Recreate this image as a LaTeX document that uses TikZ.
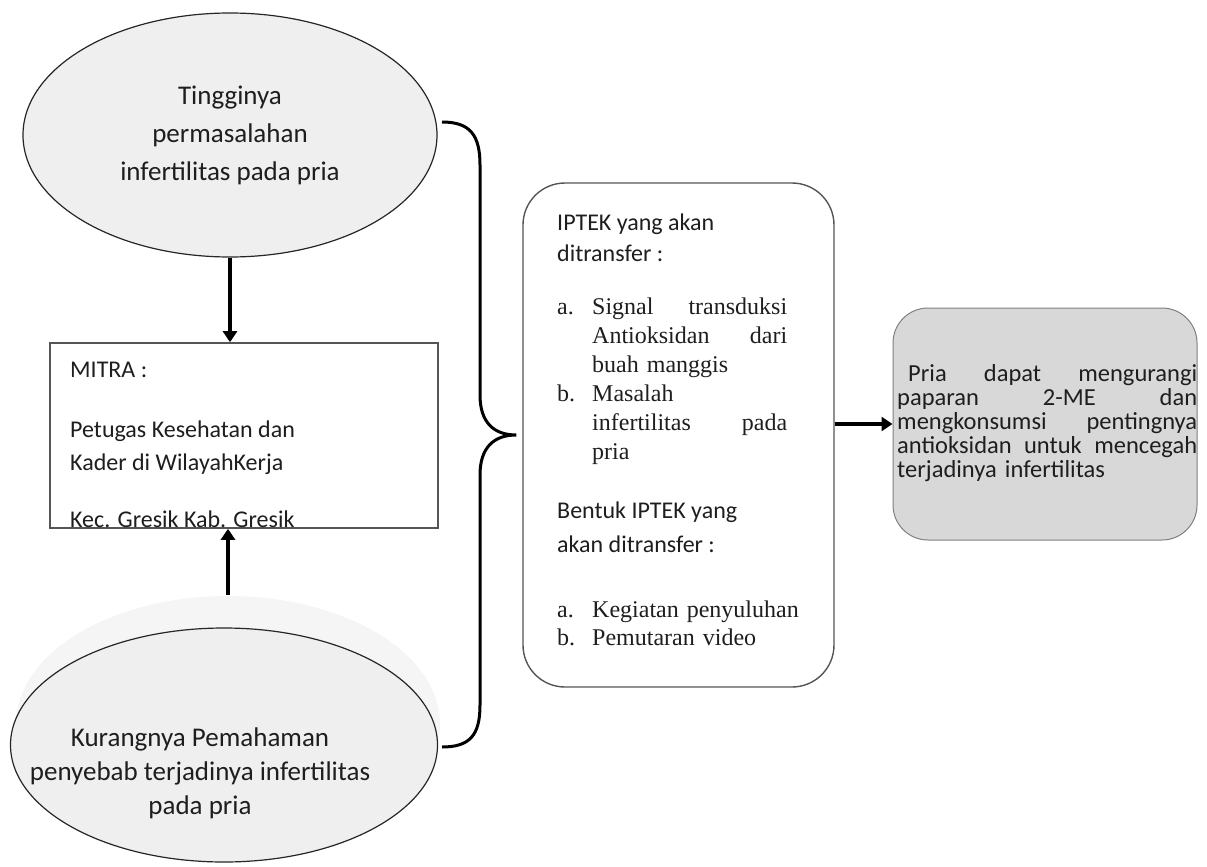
\documentclass[tikz,border=0pt]{standalone}
\usepackage{fontspec}
\setmainfont{Carlito}
\newfontfamily\timesfont{Liberation Serif}
\usetikzlibrary{shapes.geometric,arrows.meta,positioning}
\setlength{\parindent}{0pt}

\definecolor{bubblegray}{HTML}{EFEFEF}
\definecolor{shadegray}{HTML}{F5F5F5}
\definecolor{resultgray}{HTML}{D8D8D8}
\definecolor{edgegray}{HTML}{555555}
\definecolor{inkgray}{HTML}{1E1E1E}

\tikzset{
  bubble/.style={ellipse, draw=black!85, line width=1.2pt, fill=bubblegray, inner sep=0pt},
  boxtxt/.style={inner sep=0pt, anchor=north west, align=left, text=inkgray},
  listtxt/.style={inner sep=0pt, anchor=north west, text width=250pt, text=inkgray,
    font=\timesfont\fontsize{24}{29}\selectfont},
  flow/.style={line width=3.2pt, -{Triangle[width=14pt,length=11pt]}},
}

\begin{document}
\begin{tikzpicture}[x=1pt,y=-1pt]
      \useasboundingbox (0,0) rectangle (1207,867);

      \node[bubble, minimum width=414pt, minimum height=244pt, align=center, text=inkgray,
        font=\fontsize{27}{38}\selectfont] (tinggi) at (230,135) {Tingginya\\permasalahan\\infertilitas pada pria};

      \node[draw=edgegray, line width=1.6pt, minimum width=388pt, minimum height=185pt, inner sep=0pt] (mitra) at (244,435.5) {};
      \node[boxtxt, font=\fontsize{24}{33}\selectfont] (mitratxt) at (70,362) {MITRA :\\[27pt] Petugas Kesehatan dan\\ Kader di WilayahKerja\\[24pt] Kec. Gresik Kab. Gresik};

      \node[bubble, draw=none, fill=shadegray, minimum width=424pt, minimum height=256pt] (kurangbg) at (228,724) {};
      \node[bubble, minimum width=427pt, minimum height=234pt] (kurang) at (224,745) {};
      \node[align=center, text=inkgray, font=\fontsize{27}{34}\selectfont] (kurangtxt) at (200,773) {Kurangnya Pemahaman\\penyebab terjadinya infertilitas\\pada pria};

      \draw[flow] (tinggi.south) -- (tinggi.south |- mitra.north);
      \draw[flow] (kurangbg.north) -- (kurangbg.north |- mitra.south);

      \node[draw=edgegray, line width=1.4pt, rounded corners=42pt, minimum width=311pt, minimum height=504pt] (iptek) at (678.5,435) {};
      \node[boxtxt, font=\fontsize{24}{31}\selectfont] (iptekhead) at (557,214) {IPTEK yang akan\\ ditransfer :};
      \node[listtxt] (itema) at (557,297.5) {\makebox[35pt][l]{a.}\parbox[t]{195pt}{Signal\hfill transduksi\\ Antioksidan\hfill dari\\ buah manggis}};
      \node[listtxt] (itemb) at (557,384.5) {\makebox[35pt][l]{b.}\parbox[t]{195pt}{Masalah\\ infertilitas\hfill pada\\ pria}};
      \node[boxtxt, font=\fontsize{24}{34}\selectfont] (bentukhead) at (557,502) {Bentuk IPTEK yang\\ akan ditransfer :};
      \node[listtxt, font=\timesfont\fontsize{24}{28}\selectfont] (bentukitems) at (557,600.5) {\makebox[35pt][l]{a.}Kegiatan penyuluhan\par \makebox[35pt][l]{b.}Pemutaran video};

      \coordinate (bracetop) at (442,122);
      \coordinate (bracebot) at (442,747);
      \coordinate (bracetip) at ([xshift=-6pt]iptek.west);
      \draw[line width=3pt] (bracetop) .. controls +(28,0) and +(0,-30) .. (480,165) -- (480,395)
        .. controls +(0,28) and +(-22,0) .. (bracetip) .. controls +(-22,0) and +(0,-28) .. (480,475)
        -- (480,705) .. controls +(0,30) and +(28,0) .. (bracebot);

      \node[draw=gray, line width=1pt, fill=resultgray, rounded corners=35pt, minimum width=304pt, minimum height=232pt] (hasil) at (1045,424) {};
      \node[inner sep=0pt, anchor=north west, text width=300pt, text=inkgray, font=\fontsize{24.5}{24}\selectfont] (hasiltxt) at (897,364)
        {\hspace*{11pt}Pria\hfill dapat\hfill mengurangi\newline paparan\hfill 2-ME\hfill dan\newline mengkonsumsi\hfill pentingnya\newline antioksidan\hfill untuk\hfill mencegah\newline terjadinya infertilitas};

      \draw[flow] (iptek.east |- hasil.west) -- (hasil.west);
\end{tikzpicture}
\end{document}
